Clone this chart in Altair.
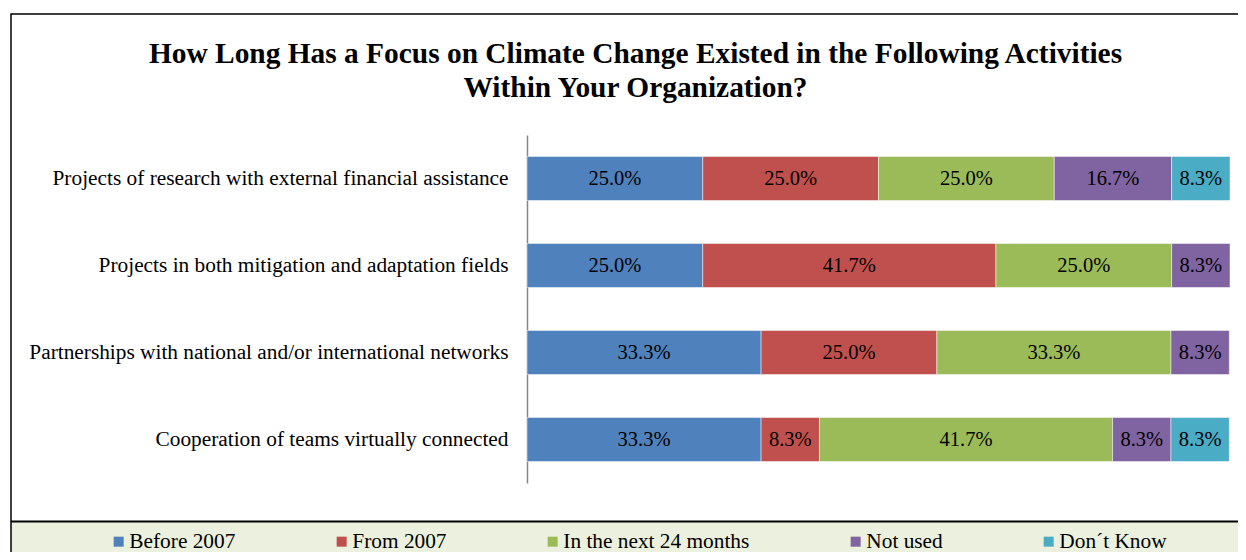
import altair as alt
import pandas as pd

# ---- data ----
categories = [
    "Projects of research with external financial assistance",
    "Projects in both mitigation and adaptation fields",
    "Partnerships with national and/or international networks",
    "Cooperation of teams virtually connected",
]
series = ["Before 2007", "From 2007", "In the next 24 months", "Not used", "Don´t Know"]
colors = ["#4F81BD", "#C0504D", "#9BBB59", "#8064A2", "#4BACC6"]

before_2007 = [25.0, 25.0, 33.3, 33.3]
from_2007 = [25.0, 41.7, 25.0, 8.3]
next_24_months = [25.0, 25.0, 33.3, 41.7]
not_used = [16.7, 8.3, 8.3, 8.3]
dont_know = [8.3, 0.0, 0.0, 8.3]

title_lines = [
    "How Long Has a Focus on Climate Change Existed in the Following Activities",
    "Within Your Organization?",
]

values_by_series = [before_2007, from_2007, next_24_months, not_used, dont_know]
rows = []
for si, (name, vals) in enumerate(zip(series, values_by_series)):
    for ci, cat in enumerate(categories):
        if vals[ci] > 0:
            rows.append({"Activity": cat, "Series": name, "Value": vals[ci], "Order": si})
df = pd.DataFrame(rows)

FONT = "Liberation Serif"

y_enc = alt.Y(
    "Activity:N",
    sort=categories,
    scale=alt.Scale(paddingInner=0.494, paddingOuter=0.247),
    axis=alt.Axis(
        title=None,
        ticks=False,
        tickSize=0,
        labelPadding=19,
        labelFont=FONT,
        labelFontSize=21.33,
        labelColor="#000000",
        labelLimit=0,
        domainColor="#868686",
        domainWidth=1.5,
        grid=False,
    ),
)
x_scale = alt.Scale(domain=[0, 100], nice=False, zero=True)

base = alt.Chart(df)

bars = base.mark_bar(stroke="#ffffff", strokeWidth=0.8, strokeOpacity=0.6).encode(
    y=y_enc,
    x=alt.X("Value:Q", stack="zero", scale=x_scale, axis=None),
    color=alt.Color(
        "Series:N",
        scale=alt.Scale(domain=series, range=colors),
        legend=alt.Legend(
            title=None,
            orient="none",
            legendX=-419,
            legendY=396,
            direction="horizontal",
            symbolType="square",
            symbolSize=100,
            symbolStrokeWidth=0,
            labelFont=FONT,
            labelFontSize=21.33,
            labelColor="#000000",
            labelOffset=0,
            columnPadding=95,
            padding=0,
            labelLimit=0,
        ),
    ),
    order=alt.Order("Order:Q"),
)

labels = (
    base.transform_stack(
        stack="Value",
        as_=["x0", "x1"],
        groupby=["Activity"],
        sort=[alt.SortField("Order", order="ascending")],
    )
    .transform_calculate(
        mid="(datum.x0 + datum.x1) / 2",
        label="format(datum.Value, '.1f') + '%'",
    )
    .mark_text(font=FONT, fontSize=20.5, color="#000000")
    .encode(
        y=alt.Y("Activity:N", sort=categories),
        x=alt.X("mid:Q", scale=x_scale, axis=None),
        text="label:N",
    )
)

one = pd.DataFrame({"d": [0]})
legend_bg = alt.Chart(one).mark_rect(fill="#EBF1DE").encode(
    x=alt.value(-516), x2=alt.value(800), y=alt.value(387), y2=alt.value(500)
)
frame = alt.Chart(one).mark_rect(
    fill="#ffffff", fillOpacity=0, stroke="#000000", strokeWidth=1.5
).encode(x=alt.value(-516), x2=alt.value(800), y=alt.value(-121), y2=alt.value(500))
legend_line = alt.Chart(one).mark_rule(stroke="#000000", strokeWidth=2).encode(
    x=alt.value(-516), x2=alt.value(800), y=alt.value(386.5)
)

chart = (
    alt.layer(legend_bg, bars, labels, frame, legend_line)
    .properties(
        width=703,
        height=348,
        background="#ffffff",
        autosize=alt.AutoSizeParams(type="none"),
        padding={"left": 519, "top": 127, "right": 8, "bottom": 69},
        title=alt.TitleParams(
            text=title_lines,
            font=FONT,
            fontSize=29.4,
            fontWeight="bold",
            color="#000000",
            anchor="middle",
            frame="group",
            dx=-243,
            dy=90.5,
            offset=0,
            lineHeight=34,
        ),
    )
    .configure_view(stroke="transparent", strokeWidth=0)
)

chart.save("out.html", embed_options={"renderer": "svg", "actions": False})
